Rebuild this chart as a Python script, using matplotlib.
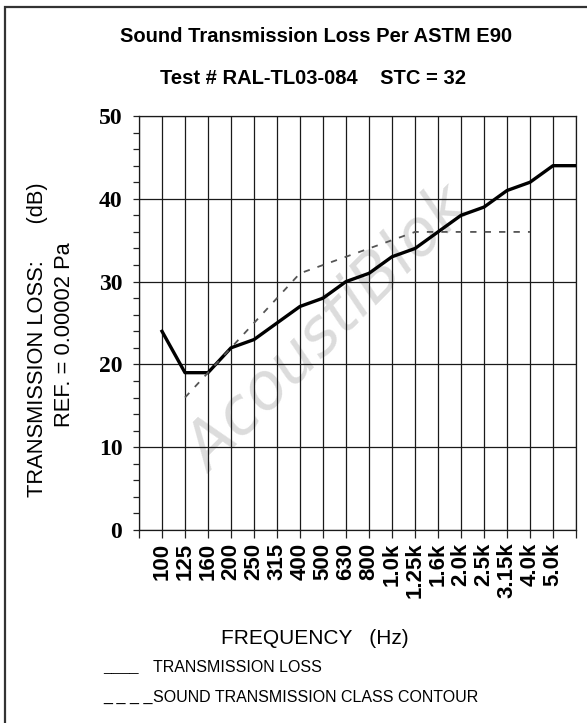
import matplotlib
matplotlib.use('Agg')
import matplotlib.pyplot as plt
from matplotlib.patches import Rectangle

bands = ['100', '125', '160', '200', '250', '315', '400', '500', '630', '800',
         '1.0k', '1.25k', '1.6k', '2.0k', '2.5k', '3.15k', '4.0k', '5.0k']
tl = [24, 19, 19, 22, 23, 25, 27, 28, 30, 31, 33, 34, 36, 38, 39, 41, 42, 44]
# STC 32 contour, drawn 125 Hz .. 4 kHz
stc_bands = ['125', '160', '200', '250', '315', '400', '500', '630', '800',
             '1.0k', '1.25k', '1.6k', '2.0k', '2.5k', '3.15k', '4.0k']
stc = [16, 19, 22, 25, 28, 31, 32, 33, 34, 35, 36, 36, 36, 36, 36, 36]

plt.rcParams['font.family'] = ['Liberation Sans', 'DejaVu Sans']

W, H = 587, 723
fig = plt.figure(figsize=(W / 100, H / 100), dpi=100)
ax = fig.add_axes([139 / W, 1 - 530 / H, (576 - 139) / W, (530 - 116) / H])

xi = list(range(len(bands)))
# last value runs flat to the right edge of the grid
ax.plot(xi + [len(bands)], tl + [tl[-1]], color='black', lw=2.4, zorder=4,
        solid_joinstyle='round')
si = [bands.index(b) for b in stc_bands]
ax.plot(si, stc, color='#555555', lw=1.3, dashes=(3.5, 4.5), zorder=4)

ax.set_xlim(-1, len(bands))
ax.set_ylim(0, 50)
ax.set_xticks(range(-1, len(bands) + 1))
ax.set_xticklabels([''] + bands + [''], rotation=90, fontsize=16,
                   fontweight='bold', va='top', ha='center')
ax.set_yticks(range(0, 51, 10))
ax.set_yticks(range(0, 51, 2), minor=True)
ax.set_yticklabels([str(v) for v in range(0, 51, 10)], fontsize=17,
                   fontweight='bold', family='Liberation Serif')
ax.tick_params(axis='y', which='both', direction='out', length=4, width=0.9,
               pad=8, color='#222222')
ax.tick_params(axis='x', direction='out', length=6, width=0.9, pad=3,
               color='#222222')
ax.grid(True, which='major', color='#1a1a1a', lw=0.9)
for s in ax.spines.values():
    s.set_color('#1a1a1a')
    s.set_linewidth(0.9)

# faint watermark
fig.text(330 / W, 1 - 330 / H, 'AcoustiBlok', fontsize=46, style='italic',
         color='#dcdcdc', rotation=45, ha='center', va='center', zorder=1,
         family='DejaVu Sans')
ax.set_zorder(2)
ax.patch.set_alpha(0)

fig.text(316 / W, 1 - 37 / H, 'Sound Transmission Loss Per ASTM E90',
         fontsize=14.5, fontweight='bold', ha='center', va='center')
fig.text(313 / W, 1 - 78 / H, 'Test # RAL-TL03-084    STC = 32',
         fontsize=14.5, fontweight='bold', ha='center', va='center')

fig.text(38 / W, 1 - 340 / H, 'TRANSMISSION LOSS:      (dB)', fontsize=15.75,
         rotation=90, ha='center', va='center')
fig.text(65 / W, 1 - 335 / H, 'REF. = 0.00002 Pa', fontsize=15.75,
         rotation=90, ha='center', va='center')

fig.text(315 / W, 1 - 638 / H, 'FREQUENCY   (Hz)', fontsize=15,
         ha='center', va='center')
fig.text(103 / W, 1 - 668 / H, '____', fontsize=11.5, ha='left',
         va='center', fontweight='bold')
fig.text(153 / W, 1 - 668 / H, 'TRANSMISSION LOSS', fontsize=11.5,
         ha='left', va='center')
fig.text(103 / W, 1 - 697 / H, '_ _ _ _', fontsize=11.5, ha='left',
         va='center')
fig.text(153 / W, 1 - 697 / H, 'SOUND TRANSMISSION CLASS CONTOUR',
         fontsize=11.5, ha='left', va='center')

fig.patches.append(Rectangle((5 / W, -0.1), 1.2, 1 - 7 / H + 0.1,
                             transform=fig.transFigure, fill=False,
                             edgecolor='#333333', lw=1.6))

fig.savefig('out.png', dpi=100)
